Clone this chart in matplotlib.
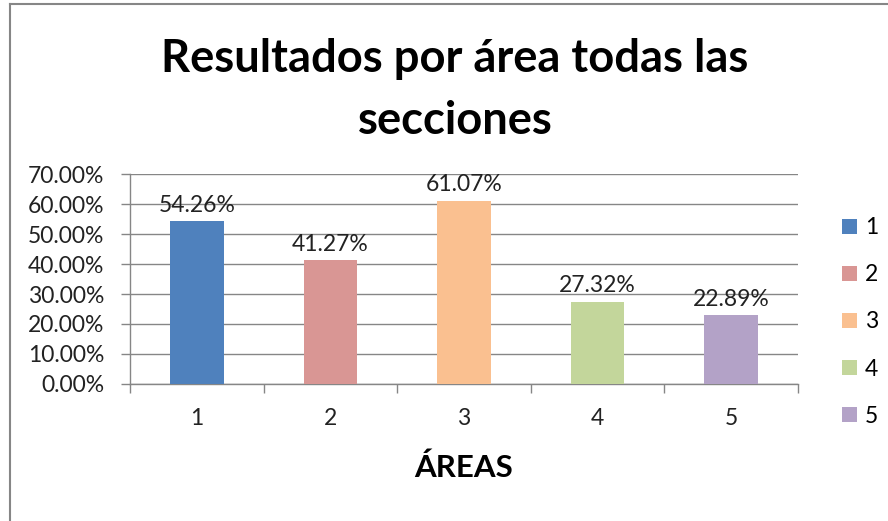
import matplotlib
matplotlib.use('Agg')
import matplotlib.pyplot as plt
from matplotlib.patches import Patch
from matplotlib.lines import Line2D
from matplotlib.ticker import FuncFormatter

plt.rcParams['font.family'] = ['Lato', 'DejaVu Sans']

# datos
areas = ['1', '2', '3', '4', '5']
porcentajes = [54.26, 41.27, 61.07, 27.32, 22.89]
colores = ['#4F81BD', '#D99694', '#FAC090', '#C3D69B', '#B3A2C7']
titulo = 'Resultados por área todas las\nsecciones'
eje_x = 'ÁREAS'

W, H = 888, 521
fig = plt.figure(figsize=(W / 100, H / 100), dpi=100)
ax = fig.add_axes([130 / W, 1 - 384 / H, 668 / W, 210 / H])

gris = '#868686'
fs = 16.5
x = list(range(len(areas)))
ax.bar(x, porcentajes, width=0.4, color=colores, zorder=3)
for xi, v in zip(x, porcentajes):
    ax.annotate('%.2f%%' % v, (xi, v), xytext=(0, 4), textcoords='offset points',
                ha='center', va='bottom', fontsize=fs, color='#222222')

ax.set_xlim(-0.5, len(areas) - 0.5)
ax.set_ylim(0, 70)
ax.set_yticks(range(0, 71, 10))
ax.yaxis.set_major_formatter(FuncFormatter(lambda v, p: '%.2f%%' % v))
ax.grid(axis='y', color=gris, linewidth=1, zorder=0)

ax.set_xticks(x)
ax.set_xticklabels(areas)
ax.set_xticks([i - 0.5 for i in range(len(areas) + 1)], minor=True)
ax.tick_params(axis='x', which='major', length=0, pad=17, labelsize=fs, labelcolor='#222222')
ax.tick_params(axis='x', which='minor', length=6.5, color=gris, width=1)
ax.tick_params(axis='y', length=6.5, color=gris, width=1, labelsize=fs, pad=12, labelcolor='#222222')
for s in ['top', 'right']:
    ax.spines[s].set_visible(False)
for s in ['left', 'bottom']:
    ax.spines[s].set_color(gris)
    ax.spines[s].set_linewidth(1)

ax.set_xlabel(eje_x, fontsize=22.5, fontweight='bold', labelpad=18)

fig.text(455 / W, 1 - 90 / H, titulo, ha='center', va='center',
         fontsize=32.7, fontweight='bold', linespacing=1.58)

handles = [Patch(facecolor=c, edgecolor='none') for c in colores]
fig.legend(handles, areas, loc='center left', bbox_to_anchor=(842 / W, 1 - 322 / H),
           frameon=False, fontsize=fs, handlelength=0.65, handleheight=0.65,
           handletextpad=0.35, labelspacing=1.14, borderaxespad=0, borderpad=0)

# marco del gráfico
fig.add_artist(Line2D([9.5 / W, 9.5 / W], [0, 1 - 3.5 / H], transform=fig.transFigure,
                      color=gris, linewidth=1.5))
fig.add_artist(Line2D([9.5 / W, 1], [1 - 3.5 / H, 1 - 3.5 / H], transform=fig.transFigure,
                      color=gris, linewidth=1.5))

fig.savefig('out.png', dpi=100)
